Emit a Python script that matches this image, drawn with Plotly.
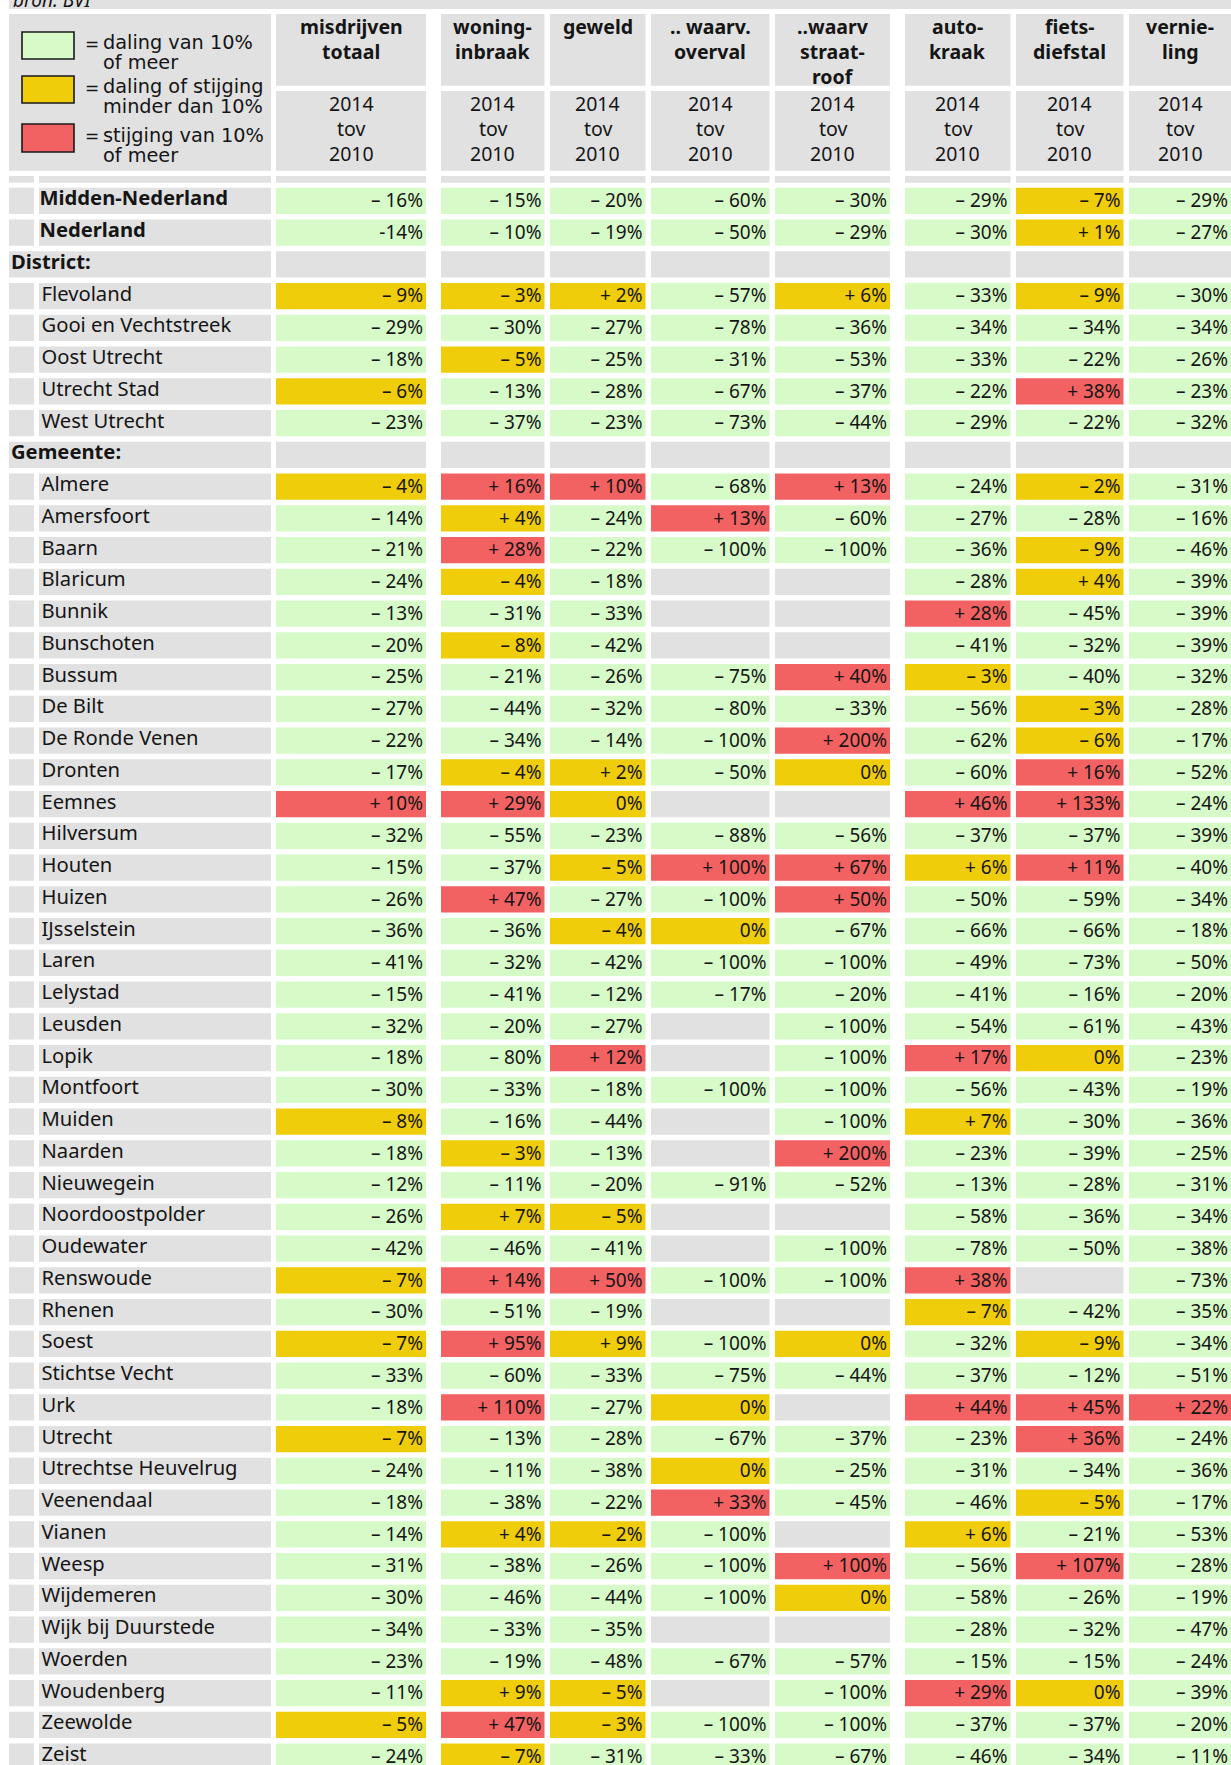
import plotly.graph_objects as go

# ---------------- data ----------------
row_names = [
    "Midden-Nederland", "Nederland", "District:",
    "Flevoland", "Gooi en Vechtstreek", "Oost Utrecht", "Utrecht Stad", "West Utrecht",
    "Gemeente:",
    "Almere", "Amersfoort", "Baarn", "Blaricum", "Bunnik", "Bunschoten", "Bussum",
    "De Bilt", "De Ronde Venen", "Dronten", "Eemnes", "Hilversum", "Houten", "Huizen",
    "IJsselstein", "Laren", "Lelystad", "Leusden", "Lopik", "Montfoort", "Muiden",
    "Naarden", "Nieuwegein", "Noordoostpolder", "Oudewater", "Renswoude", "Rhenen",
    "Soest", "Stichtse Vecht", "Urk", "Utrecht", "Utrechtse Heuvelrug", "Veenendaal",
    "Vianen", "Weesp", "Wijdemeren", "Wijk bij Duurstede", "Woerden", "Woudenberg",
    "Zeewolde", "Zeist",
]
bold_rows = ["Midden-Nederland", "Nederland"]
section_rows = ["District:", "Gemeente:"]

header_lines = [
    ["misdrijven", "totaal"], ["woning-", "inbraak"], ["geweld"], [".. waarv.", "overval"],
    ["..waarv", "straat-", "roof"], ["auto-", "kraak"], ["fiets-", "diefstal"], ["vernie-", "ling"],
]
period_lines = ["2014", "tov", "2010"]
source_text = "bron: BVI"
legend_lines = [["daling van 10%", "of meer"], ["daling of stijging", "minder dan 10%"],
                ["stijging van 10%", "of meer"]]

misdrijven_totaal = [-16, -14, None, -9, -29, -18, -6, -23, None,
    -4, -14, -21, -24, -13, -20, -25, -27, -22, -17, 10, -32, -15, -26, -36, -41, -15, -32,
    -18, -30, -8, -18, -12, -26, -42, -7, -30, -7, -33, -18, -7, -24, -18, -14, -31, -30,
    -34, -23, -11, -5, -24]
woninginbraak = [-15, -10, None, -3, -30, -5, -13, -37, None,
    16, 4, 28, -4, -31, -8, -21, -44, -34, -4, 29, -55, -37, 47, -36, -32, -41, -20,
    -80, -33, -16, -3, -11, 7, -46, 14, -51, 95, -60, 110, -13, -11, -38, 4, -38, -46,
    -33, -19, 9, 47, -7]
geweld = [-20, -19, None, 2, -27, -25, -28, -23, None,
    10, -24, -22, -18, -33, -42, -26, -32, -14, 2, 0, -23, -5, -27, -4, -42, -12, -27,
    12, -18, -44, -13, -20, -5, -41, 50, -19, 9, -33, -27, -28, -38, -22, -2, -26, -44,
    -35, -48, -5, -3, -31]
overval = [-60, -50, None, -57, -78, -31, -67, -73, None,
    -68, 13, -100, None, None, None, -75, -80, -100, -50, None, -88, 100, -100, 0, -100,
    -17, None, None, -100, None, None, -91, None, None, -100, None, -100, -75, 0, -67, 0,
    33, -100, -100, -100, None, -67, None, -100, -33]
straatroof = [-30, -29, None, 6, -36, -53, -37, -44, None,
    13, -60, -100, None, None, None, 40, -33, 200, 0, None, -56, 67, 50, -67, -100, -20,
    -100, -100, -100, -100, 200, -52, None, -100, -100, None, 0, -44, None, -37, -25, -45,
    None, 100, 0, None, -57, -100, -100, -67]
autokraak = [-29, -30, None, -33, -34, -33, -22, -29, None,
    -24, -27, -36, -28, 28, -41, -3, -56, -62, -60, 46, -37, 6, -50, -66, -49, -41, -54,
    17, -56, 7, -23, -13, -58, -78, 38, -7, -32, -37, 44, -23, -31, -46, 6, -56, -58,
    -28, -15, 29, -37, -46]
fietsdiefstal = [-7, 1, None, -9, -34, -22, 38, -22, None,
    -2, -28, -9, 4, -45, -32, -40, -3, -6, 16, 133, -37, 11, -59, -66, -73, -16, -61,
    0, -43, -30, -39, -28, -36, -50, None, -42, -9, -12, 45, 36, -34, -5, -21, 107, -26,
    -32, -15, 0, -37, -34]
vernieling = [-29, -27, None, -30, -34, -26, -23, -32, None,
    -31, -16, -46, -39, -39, -39, -32, -28, -17, -52, -24, -39, -40, -34, -18, -50, -20,
    -43, -23, -19, -36, -25, -31, -34, -38, -73, -35, -34, -51, 22, -24, -36, -17, -53,
    -28, -19, -47, -24, -39, -20, -11]
columns = [misdrijven_totaal, woninginbraak, geweld, overval, straatroof,
           autokraak, fietsdiefstal, vernieling]
text_overrides = {("Nederland", 0): "-14%"}

# ---------------- style / layout ----------------
W, H = 1231, 1765
GREEN, YELLOW, RED, GRAY = "#d6fac8", "#f0cd0a", "#f26262", "#e1e1e1"
TXT = "#151515"
NUM_FONT = "Noto Sans"
col_left = [276, 441, 550, 651, 775, 905, 1016, 1129]
col_right = [426, 544.5, 645.5, 769.5, 890, 1010.5, 1123.5, 1240]
first_top, pitch, cell_h = 187.7, 31.75, 26.3


def colour(v):
    if v is None:
        return GRAY
    if v <= -10:
        return GREEN
    if v >= 10:
        return RED
    return YELLOW


def fmt(v):
    if v is None:
        return ""
    if v < 0:
        return "\u2013 %d%%" % (-v)
    if v > 0:
        return "+ %d%%" % v
    return "0%"


n = len(row_names)
centers = [first_top + i * pitch + cell_h / 2 for i in range(n)]

fig = go.Figure()

# label cells
small_y = [c for c, r in zip(centers, row_names) if r not in section_rows]
fig.add_trace(go.Bar(orientation="h", y=small_y, x=[34 - 9] * len(small_y), base=[9] * len(small_y),
                     width=cell_h, marker=dict(color=GRAY, line=dict(width=0)), hoverinfo="skip"))
fig.add_trace(go.Bar(orientation="h", y=small_y, x=[271 - 39] * len(small_y), base=[39] * len(small_y),
                     width=cell_h, marker=dict(color=GRAY, line=dict(width=0)), hoverinfo="skip"))
sec_y = [c for c, r in zip(centers, row_names) if r in section_rows]
fig.add_trace(go.Bar(orientation="h", y=sec_y, x=[271 - 9] * len(sec_y), base=[9] * len(sec_y),
                     width=cell_h, marker=dict(color=GRAY, line=dict(width=0)), hoverinfo="skip"))

# data cells
for j, vals in enumerate(columns):
    fig.add_trace(go.Bar(
        orientation="h", y=centers, x=[col_right[j] - col_left[j]] * n, base=[col_left[j]] * n,
        width=cell_h, marker=dict(color=[colour(v) for v in vals], line=dict(width=0)),
        hoverinfo="skip"))
    texts = [text_overrides.get((r, j), fmt(v)) for r, v in zip(row_names, vals)]
    xr = min(col_right[j], 1231) - 3
    fig.add_trace(go.Scatter(
        x=[xr] * n, y=[c + 1.5 for c in centers], mode="text", text=texts,
        textposition="middle left", textfont=dict(family=NUM_FONT, size=19, color=TXT),
        hoverinfo="skip", cliponaxis=False))

# row label texts
LABEL_SIZE = 20.2
norm_i = [i for i, r in enumerate(row_names) if r not in section_rows + bold_rows]
fig.add_trace(go.Scatter(
    x=[41.5] * len(norm_i), y=[centers[i] - 0.5 for i in norm_i], mode="text",
    text=[row_names[i] for i in norm_i], textposition="middle right",
    textfont=dict(family=NUM_FONT, size=LABEL_SIZE, color=TXT), hoverinfo="skip", cliponaxis=False))
bold_i = [i for i, r in enumerate(row_names) if r in bold_rows]
fig.add_trace(go.Scatter(
    x=[39.5] * len(bold_i), y=[centers[i] - 0.5 for i in bold_i], mode="text",
    text=["<b>%s</b>" % row_names[i] for i in bold_i], textposition="middle right",
    textfont=dict(family=NUM_FONT, size=LABEL_SIZE, color=TXT), hoverinfo="skip", cliponaxis=False))
sec_i = [i for i, r in enumerate(row_names) if r in section_rows]
fig.add_trace(go.Scatter(
    x=[11] * len(sec_i), y=[centers[i] - 0.5 for i in sec_i], mode="text",
    text=["<b>%s</b>" % row_names[i] for i in sec_i], textposition="middle right",
    textfont=dict(family=NUM_FONT, size=LABEL_SIZE, color=TXT), hoverinfo="skip", cliponaxis=False))

# ---------------- header decoration ----------------
shapes = []


def rect(x0, y0, x1, y1, fill, line=None):
    d = dict(type="rect", xref="x", yref="y", x0=x0, y0=y0, x1=x1, y1=y1,
             fillcolor=fill, layer="below")
    d["line"] = line if line else dict(width=0)
    return d


shapes.append(rect(9, 0, 1240, 9, GRAY))
shapes.append(rect(9, 14, 271, 170.7, GRAY))
shapes.append(rect(9, 176, 34, 182.7, GRAY))
shapes.append(rect(39, 176, 271, 182.7, GRAY))
for j in range(len(columns)):
    shapes.append(rect(col_left[j], 14, col_right[j], 85.7, GRAY))
    shapes.append(rect(col_left[j], 91, col_right[j], 170.7, GRAY))
    shapes.append(rect(col_left[j], 176, col_right[j], 182.7, GRAY))

annotations = []
for j, lines in enumerate(header_lines):
    cx = (col_left[j] + min(col_right[j], 1231)) / 2
    for k, t in enumerate(lines):
        annotations.append(dict(x=cx, y=26 + 25 * k, xref="x", yref="y", text="<b>%s</b>" % t,
                                showarrow=False, xanchor="center", yanchor="middle",
                                font=dict(family=NUM_FONT, size=19.5, color=TXT)))
    for k, t in enumerate(period_lines):
        annotations.append(dict(x=cx, y=103 + 25 * k, xref="x", yref="y", text=t,
                                showarrow=False, xanchor="center", yanchor="middle",
                                font=dict(family=NUM_FONT, size=19.5, color=TXT)))

legend_box_y = [(32, 59), (76, 103), (124, 152)]
legend_cols = [GREEN, YELLOW, RED]
for (y0, y1), c, lines in zip(legend_box_y, legend_cols, legend_lines):
    shapes.append(dict(type="rect", xref="x", yref="y", x0=22, y0=y0, x1=74, y1=y1,
                       fillcolor=c, line=dict(color="#1a1a1a", width=1.6), layer="above"))
    ty = (y0 + y1) / 2 - 3
    annotations.append(dict(x=83, y=ty + 1, xref="x", yref="y", text="=", showarrow=False,
                            xanchor="left", yanchor="middle",
                            font=dict(family="DejaVu Sans", size=17, color=TXT)))
    for k, t in enumerate(lines):
        annotations.append(dict(x=101, y=ty + 20 * k, xref="x", yref="y", text=t,
                                showarrow=False, xanchor="left", yanchor="middle",
                                font=dict(family="DejaVu Sans", size=19.3, color=TXT)))

annotations.append(dict(x=11, y=0, xref="x", yref="y", text=source_text, showarrow=False,
                        xanchor="left", yanchor="middle",
                        font=dict(family=NUM_FONT, size=19, color=TXT, style="italic")))

fig.update_layout(
    width=W, height=H, margin=dict(l=0, r=0, t=0, b=0),
    paper_bgcolor="white", plot_bgcolor="white", showlegend=False, barmode="overlay",
    xaxis=dict(range=[0, W], visible=False, fixedrange=True),
    yaxis=dict(range=[H, 0], visible=False, fixedrange=True),
    shapes=shapes, annotations=annotations,
)

fig.write_html("out.html", config={"displayModeBar": False},
               post_script="document.body.style.margin='0px';")
